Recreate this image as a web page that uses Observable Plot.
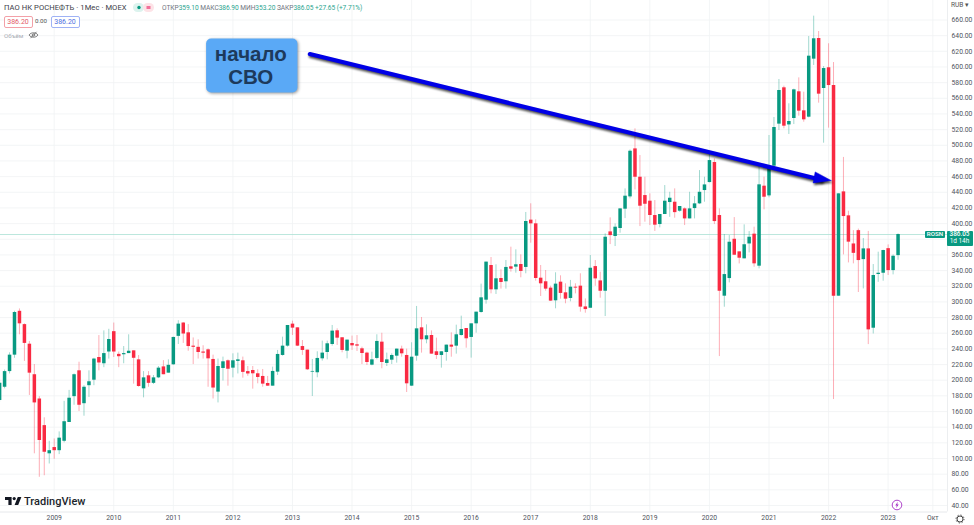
<!DOCTYPE html>
<html><head><meta charset="utf-8">
<script src="https://cdn.jsdelivr.net/npm/d3@7"></script>
<script src="https://cdn.jsdelivr.net/npm/@observablehq/plot@0.6"></script>
<style>
html,body{margin:0;padding:0;background:#fff;overflow:hidden}
body{width:974px;height:525px;position:relative;font-family:Roboto,"Liberation Sans",sans-serif}
svg.plot,figure{margin:0;display:block}
.over{position:absolute;white-space:nowrap;line-height:1}
.shadow{filter:drop-shadow(1px 2px 1px rgba(0,0,0,.7))}
.card{filter:drop-shadow(1px 1.5px 1.5px rgba(0,0,0,.4))}
.tag{padding:0;border-radius:2px;text-align:center;font-size:7px;background:#fff}
</style></head><body>
<div id="chart"></div>
<div class="over" style="left:4px;top:4px;font-size:7.6px;letter-spacing:.06px;color:#3c4048">ПАО НК РОСНЕФТЬ · 1Мес · MOEX</div>
<svg class="over" style="left:133px;top:3px" width="21" height="9"><rect width="11" height="9" rx="4.5" fill="#dcf3ee"/><rect x="10" width="11" height="9" rx="4.5" fill="#fde3e7"/><circle cx="6" cy="4.5" r="1.7" fill="#089981"/><rect x="13.5" y="3" width="4" height="3" fill="#f2709a"/></svg>
<div class="over" style="left:162px;top:5px;font-size:6.6px;color:#6f7480;letter-spacing:-.04px">ОТКР<span style="color:#2aa58f">359.10</span> МАКС<span style="color:#2aa58f">386.90</span> МИН<span style="color:#2aa58f">353.20</span> ЗАКР<span style="color:#2aa58f">386.05 +27.65 (+7.71%)</span></div>
<div class="over tag" style="left:3.5px;top:15.5px;width:27px;height:10px;line-height:10px;border:.7px solid #f3a0a8;color:#e35a68">386.20</div>
<div class="over" style="left:35px;top:18px;font-size:6.2px;color:#555">0.00</div>
<div class="over tag" style="left:50.5px;top:15.5px;width:27px;height:10px;line-height:10px;border:.7px solid #9fb2f5;color:#4e6fe0">386.20</div>
<div class="over" style="left:4px;top:33px;font-size:6.2px;color:#a9adb5">Объём</div>
<svg class="over" style="left:28px;top:31px" width="11" height="8" viewBox="0 0 11 8"><path d="M1 4c2-3 7-3 9 0-2 3-7 3-9 0z" fill="none" stroke="#666" stroke-width=".8"/><circle cx="5.5" cy="4" r="1.3" fill="none" stroke="#666" stroke-width=".8"/><path d="M2.5 7.2 8.5 .8" stroke="#666" stroke-width=".8"/></svg>
<svg class="over" style="left:5px;top:496px" width="17" height="10" viewBox="0 0 17 10"><path d="M0 1h6.6v8H3.4V4H0zM16.4 1l-3.2 8H9.6l3.2-8z" fill="#131722"/><circle cx="9.2" cy="2.6" r="1.6" fill="#131722"/></svg>
<div class="over" style="left:24px;top:495.5px;font-size:11px;font-weight:500;color:#1b1f2b;letter-spacing:.02px">TradingView</div>
<svg class="over" style="left:891px;top:499px" width="12" height="12" viewBox="0 0 12 12"><circle cx="6" cy="6" r="4.8" fill="#fff" stroke="#a52fc4" stroke-width=".9"/><path d="M6.8 2.8 4.3 6.4h1.5l-.7 2.8 2.6-3.7H6.2z" fill="#a52fc4"/></svg>
<svg class="over" style="left:955px;top:514px" width="10" height="10" viewBox="0 0 10 10"><circle cx="5" cy="5" r="3" fill="none" stroke="#333" stroke-width=".9"/><circle cx="5" cy="5" r="4" fill="none" stroke="#333" stroke-width=".9" stroke-dasharray="1.3 1.84"/></svg>
<div class="over" style="left:951px;top:2px;font-size:6.6px;color:#555">RUB ▾</div>
<div class="over" style="left:925px;top:230.8px;width:20px;height:7.6px;line-height:7.6px;background:#089981;color:#fff;font-size:6.2px;text-align:center;font-weight:500;border-radius:1px">ROSN</div>
<div class="over" style="left:946.5px;top:230.8px;width:26px;height:15.2px;background:#089981;color:#fff;font-size:6.4px;text-align:center;font-weight:500;border-radius:1px"><div style="line-height:7.6px">386.05</div><div style="line-height:7.6px;font-weight:400">1d 14h</div></div>
<script>
// First candle is February 2008; one entry per month through March 2023.
const opens = [
174,191,211,232,288,271,246,207,176,142,106,
114,110,122,146,179,212,170,193,200,229,221,236,
262,233,232.5,234,237.5,226,189,205.6,196,203,217,209,
219.7,256,273,260.5,243.5,242,236,238.8,226.5,184.8,215,224.8,
215.4,224,224.8,211,212.4,208.2,204.8,195.8,192.4,210.3,231.6,243.5,
271.6,266.9,243,238.4,210.3,209.5,227.3,235.4,245.6,263.1,254.2,237.1,
246.9,245.2,240.1,234.6,219.2,227.8,248.6,221.4,225.6,230.7,239.7,231.6,
192.4,230.7,266.9,251.6,257.1,236.3,231.6,235.4,244.8,243.5,257.1,266,
254.6,272,286.5,302.2,346.5,315.4,329.9,325.7,344.8,344.4,347.8,344,
404.4,399.7,330.3,325.7,317.6,301.4,325.2,311.6,304.4,318.8,320.1,293.6,
291.9,345.1,326.8,313.6,389.4,383.5,393.7,418.4,434.1,495.4,459.2,435.8,
428.6,410.3,398.8,411.6,426.9,427.3,415.8,418.8,406,419.2,425.2,442.2,
452.4,478,410.3,307.3,329.8,380,363.9,355,374,386.5,345.6,447.8,
435.4,473.3,527,573.4,526,534.2,568.3,544,535.9,610,636.4,572.5,
599,576.3,307.3,440.5,409.9,374,391,354,367.7,266.4,335,336.6,
368,340,359.1];
const highs = [
200,213,235,288,291,272,249.5,220,179,152,122,
125,134,173,187,208,223,193,212,228,257,263,265,
273,236,243,258,237.5,231.5,211,211,206,217.5,225,226,
255,276,273.7,271,254,251.6,244,240,232,227,229.5,226,
233.7,234.6,229.5,217.5,217.5,213.3,213.7,204.8,216.7,238,255,269.9,
275.4,266.9,250.7,238.4,226.5,236.3,249.9,249.9,269.9,265.6,254.2,251.2,
256.3,257,242.2,235.8,235.8,258,260,234.6,233.7,239.7,243.5,239.7,
247.8,294.2,280.1,270.7,263,253.7,236.3,244.8,260.5,270.3,281.8,266,
272,286.9,322.7,350.8,356.7,347.4,341,352.9,369.9,366.5,360.1,414.2,
425.3,404.8,346.5,340.1,320.1,337.2,333.3,323.1,327.4,323.1,335.9,303.8,
359.2,352.8,337.9,386.9,407.3,399.6,418.8,444.3,494,521,486.9,459.2,
438,429.4,411.6,448.6,440,444.3,421.8,420,440,434.5,467.7,459.2,
489,482.6,418.8,386,384.7,407.7,364,398.4,389.8,395.4,474.2,459.3,
512.5,535.5,584,575.5,553,571.7,586.1,567.8,638.9,664.9,645.3,600.6,
629.6,605.7,438,484.5,415.8,391,393,381,390,347.7,363.5,366,
372.8,360,386.9];
const lows = [
172,189,208,228,258,224,180.5,106,76,78,93,
99,105,120,146,168,160,154,178,193,212,216,227,
229,216,221,234,195,191,177.5,191,194.5,202,207,209,
219,245.6,247,237,220,227,227,191,176,171,199,192.4,
203,208,202.6,205,188.6,195.4,191.1,192,192.4,206,230.7,242.2,
257.1,243,231.6,212.4,179.2,203.1,224.4,226,243.5,244.4,235,227.3,
238,236.7,220,218.8,218.4,226,214.6,217.5,220,221.8,229.4,184.3,
192,224.3,234.6,246.5,233.3,226.5,215.4,224.3,229.4,233.3,256.3,240.9,
228.2,260.1,285.6,297.1,310.3,309.5,316.3,316.3,338,336.7,330.8,335.9,
375,326.5,306.9,313.7,300.5,291.2,303.5,297.6,300.1,310.3,286.9,285.6,
291.9,320,304.7,281.3,373.2,370.7,387.7,406.4,431.6,443,396.2,401.8,
397.5,390,394.5,411.6,408,406.9,414.5,397.5,406,406,424.3,427.3,
452,398.8,230.2,293.2,324.3,359.6,348.5,355,362.6,344.3,342.2,417.6,
432.9,473.3,518.9,521,513.8,526.5,537.2,529.5,535,601.9,553.8,502.7,
521.9,175.3,307.3,360,349.8,348.6,312,316.6,245.5,259,325,326.4,
333.7,334.5,353.2];
const closes = [
196,211,232,286.5,272,247,209,171,123,108,110,
110,126,147,177,207,168,191,198,227,222,234,252,
236,230,234,237,228,192,203,196,203,215.4,207,219,
254.6,271.6,259,243,242,235.4,234.5,227.3,190,217.5,223.5,214,
224.8,226,210,208,208.2,203.5,195,192.4,211.2,232.9,243.5,269.9,
266.5,243.5,238,213.3,211.2,227.8,234.6,246.5,262.7,253.7,238,251.2,
243.9,243.5,234.1,222.6,226,249.5,222.6,226,231.6,239.7,233.7,195.4,
229.4,265.6,251.6,256.7,233.3,231.6,236.3,244.8,242.2,258,264.8,252.9,
272,286.9,305.2,350.8,315.4,329.5,324.8,344,341.8,347.4,338.9,402.7,
399.7,329.9,323.1,316.3,301,322.7,310.8,303.5,318.8,317.6,293.3,290.2,
343,329.4,313.6,382.6,384.7,395.4,418.8,435,492.4,459.2,422.2,424.7,
410.3,398,411.6,428.6,432.4,414,421.8,406,418.8,425.2,440,449.4,
480.5,402.6,313.6,334.9,376.2,359.6,355.8,373,382.6,348.6,449.5,433.7,
472,522.7,570,524.4,530.4,570.8,543.6,532.5,613.8,636,565.3,598,
576.3,307.3,438,409,376.3,362,352.8,367.7,264.3,333.7,336.6,365.6,
340,358.3,386.05];
const yearLabels = ["2009","2010","2011","2012","2013","2014","2015","2016","2017","2018","2019","2020","2021","2022","2023"];
const monthLabel = "Окт";
const priceTicks = d3.range(40, 661, 20);
const hiddenTick = 380; // covered by the last-price tag in the reference
const lastPrice = 386.05;
const calloutLines = ["начало","СВО"];

const candles = opens.map((o,i)=>({i,o,h:highs[i],l:lows[i],c:closes[i],up:closes[i]>=o}));
const UP="#089981", DOWN="#f92a42";
const yearIdx = yearLabels.map((_,k)=>11+12*k);
const monthIdx = 11+12*14+9;
const xTicks = [...yearIdx, monthIdx];
const xLabel = new Map([...yearIdx.map((d,k)=>[d,yearLabels[k]]),[monthIdx,monthLabel]]);

const shaft=[{x:62.5,y:616.5},{x:165.5,y:456}];
const head=[{x:167.5,y:455},{x:164.3,y:466},{x:163.9,y:452},{x:167.5,y:455}];

const plot = Plot.plot({
  width:974,height:525,margin:0,marginRight:27,marginBottom:13.5,
  style:{background:"transparent",fontFamily:"Roboto, 'Liberation Sans', sans-serif"},
  x:{type:"linear",domain:[0.18,190.96],axis:null},
  y:{type:"linear",domain:[31.7,684.9],axis:null},
  marks:[
    Plot.ruleY(priceTicks,{stroke:"#f0f2f4",strokeWidth:.8}),
    Plot.ruleX(xTicks,{stroke:"#f0f2f4",strokeWidth:.8}),
    Plot.ruleY([31.7],{stroke:"#e6e8eb",strokeWidth:1}),
    Plot.ruleX([190.96],{stroke:"#eceef0",strokeWidth:1}),
    Plot.ruleY([lastPrice],{stroke:"#a9dfd3",strokeWidth:.8}),
    Plot.axisX(xTicks,{anchor:"bottom",tickSize:0,tickPadding:3,fontSize:6.8,tickFormat:d=>xLabel.get(d),fill:"#50535e"}),
    Plot.axisY(priceTicks.filter(d=>d!==hiddenTick),{anchor:"right",tickSize:0,tickPadding:4,fontSize:6.8,tickFormat:d=>d.toFixed(2),fill:"#50535e"}),
    Plot.ruleX(candles,{x:"i",y1:"l",y2:"h",stroke:d=>d.up?UP:DOWN,strokeOpacity:.38,strokeWidth:1}),
    Plot.ruleX(candles,{x:"i",y1:"o",y2:"c",stroke:d=>d.up?UP:DOWN,strokeWidth:3.5}),
    Plot.rect([{x1:41.7,x2:60.1,y1:566.8,y2:635.7}],{x1:"x1",x2:"x2",y1:"y1",y2:"y2",fill:"#5aa9f6",rx:5,className:"card"}),
    Plot.text([{t:calloutLines[0],x:50.6,y:615.5},{t:calloutLines[1],x:50.6,y:586.6}],{x:"x",y:"y",text:"t",fontSize:20.5,fontWeight:700,fill:"#1d3a5c",fontFamily:"'Liberation Sans', sans-serif"}),
    Plot.line(shaft,{x:"x",y:"y",stroke:"#0000e6",strokeWidth:4.2,className:"shadow"}),
    Plot.line(head,{x:"x",y:"y",fill:"#0000e6",stroke:"#0000e6",strokeWidth:.5,className:"shadow"})
  ]
});
document.getElementById("chart").append(plot);
</script>
</body></html>
